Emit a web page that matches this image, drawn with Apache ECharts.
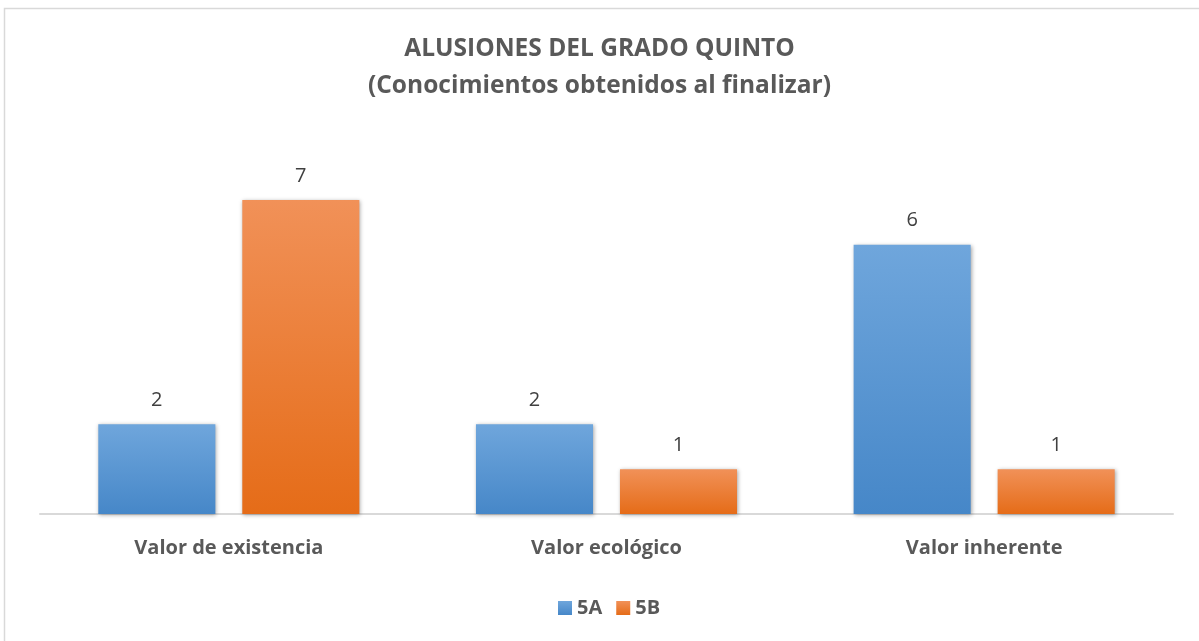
<!DOCTYPE html>
<html><head><meta charset="utf-8">
<script src="https://cdn.jsdelivr.net/npm/echarts@6/dist/echarts.min.js"></script>
<style>html,body{margin:0;padding:0;background:#fff}#c{width:1199px;height:641px}</style>
</head><body><div id="c"></div>
<script>
const categories = ['Valor de existencia', 'Valor ecológico', 'Valor inherente'];
const seriesNames = ['5A', '5B'];
const values5A = [2, 2, 6];
const values5B = [7, 1, 1];
const titleLines = ['ALUSIONES DEL GRADO QUINTO', '(Conocimientos obtenidos al finalizar)'];

const FONT = '"Open Sans", sans-serif';
const blueGrad = new echarts.graphic.LinearGradient(0, 0, 0, 1, [
  {offset: 0, color: '#6fa6dc'}, {offset: 1, color: '#4687c8'}]);
const orangeGrad = new echarts.graphic.LinearGradient(0, 0, 0, 1, [
  {offset: 0, color: '#f19158'}, {offset: 1, color: '#e56c18'}]);

const chart = echarts.init(document.getElementById('c'));
const labelCfg = {show: true, position: 'top', distance: 14, color: '#404040', fontSize: 20, fontFamily: FONT};
const shadow = {shadowBlur: 4, shadowColor: 'rgba(0,0,0,0.35)', shadowOffsetX: 1, shadowOffsetY: 1};
chart.setOption({
  animation: false,
  graphic: [{type: 'rect', shape: {x: 4.5, y: 8.5, width: 1220, height: 660},
    style: {fill: 'none', stroke: '#d9d9d9', lineWidth: 1.5}, silent: true}],
  title: {text: titleLines.join('\n'), left: 'center', top: 26,
    textStyle: {color: '#595959', fontSize: 24.5, fontWeight: 'bold', fontFamily: FONT, lineHeight: 37}},
  legend: {bottom: 18, left: 553, itemWidth: 14, itemHeight: 14, itemGap: 14,
    icon: 'rect', textStyle: {color: '#595959', fontSize: 20, fontWeight: 'bold', fontFamily: FONT},
    data: seriesNames},
  grid: {left: 40, right: 26, top: 155, bottom: 127},
  xAxis: {type: 'category', data: categories,
    axisLine: {lineStyle: {color: '#d9d9d9', width: 2}}, axisTick: {show: false},
    axisLabel: {color: '#595959', fontSize: 20, fontWeight: 'bold', fontFamily: FONT, margin: 24}},
  yAxis: {type: 'value', min: 0, max: 8, show: false, splitLine: {show: false}},
  series: [
    {name: seriesNames[0], type: 'bar', data: values5A, barWidth: '31%', barGap: '23%',
      itemStyle: Object.assign({color: blueGrad}, shadow), label: labelCfg},
    {name: seriesNames[1], type: 'bar', data: values5B, barWidth: '31%', barGap: '23%',
      itemStyle: Object.assign({color: orangeGrad}, shadow), label: labelCfg}
  ]
});
</script></body></html>
